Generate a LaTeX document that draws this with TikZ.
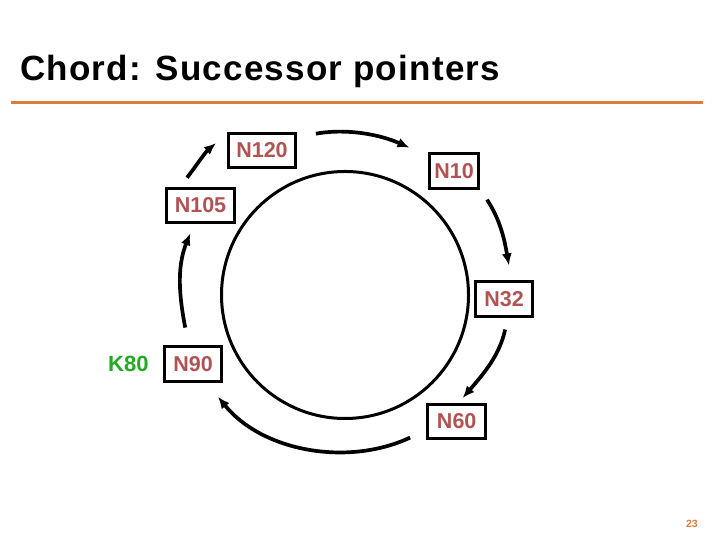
\documentclass[tikz,border=0pt]{standalone}
\usepackage{fontspec}
\setmainfont{Liberation Sans}
\newfontfamily\titlefont[LetterSpace=3.5]{Liberation Sans}
\usetikzlibrary{arrows.meta,positioning}
\definecolor{peerred}{RGB}{178,82,82}
\definecolor{keygreen}{RGB}{34,170,34}
\definecolor{rule}{RGB}{224,123,57}

\begin{document}
\begin{tikzpicture}[x=1bp, y=1bp,
    peer/.style={draw, line width=3bp, minimum height=34.5bp, minimum width=57.5bp,
      inner xsep=8bp, text=peerred, font=\bfseries\fontsize{21.5bp}{26bp}\selectfont},
    key/.style={inner sep=0pt, text=keygreen, font=\bfseries\fontsize{22bp}{26bp}\selectfont},
    succ/.style={line width=3.7bp, -{Latex[length=12bp,width=10bp]}}]
  \useasboundingbox (0,0) rectangle (720,540);
  \node[anchor=base west, inner sep=0pt,
    font=\titlefont\bfseries\fontsize{35bp}{42bp}\selectfont] (title) at (20,459)
    {Chord: Successor pointers};
  \draw[rule, line width=3bp] (11,437) -- (703,437);
  \node[draw, circle, line width=3bp, minimum size=247bp, inner sep=0pt] (ring) at (345,245) {};
  \node[peer] (n120) at (262,389.5) {N120};
  \node[peer, inner xsep=4.5bp, minimum width=49.5bp] (n10) at (454,369) {N10};
  \node[peer] (n32) at (504,241) {N32};
  \node[peer] (n60) at (456.7,118.7) {N60};
  \node[peer] (n90) at (193,176) {N90};
  \node[peer] (n105) at (200.5,334.7) {N105};
  \node[key, left=14bp of n90] (k80) {K80};
  \draw[succ, shorten <=11bp, shorten >=14bp] (n105.137) to[out=53,in=220] (n120.155);
  \draw[succ, shorten <=19bp, shorten >=20bp] (n120.21) to[out=10,in=156] (n10.150);
  \draw[succ, shorten <=12bp, shorten >=15bp] (n10.south east) to[out=-56,in=100] (n32.68);
  \draw[succ, shorten <=12bp, shorten >=6bp] (n32.-79) to[out=-102,in=49] (n60.84);
  \draw[succ, shorten <=18bp, shorten >=18bp] (n60.196) to[out=205,in=-51] (n90.-54);
  \draw[succ, shorten <=18bp, shorten >=10bp] (n90.103) to[out=101,in=-112] (n105.-109);
  \node[anchor=base east, inner sep=0pt, text=rule,
    font=\bfseries\fontsize{10.5bp}{12bp}\selectfont] (page) at (698,12) {23};
\end{tikzpicture}
\end{document}
